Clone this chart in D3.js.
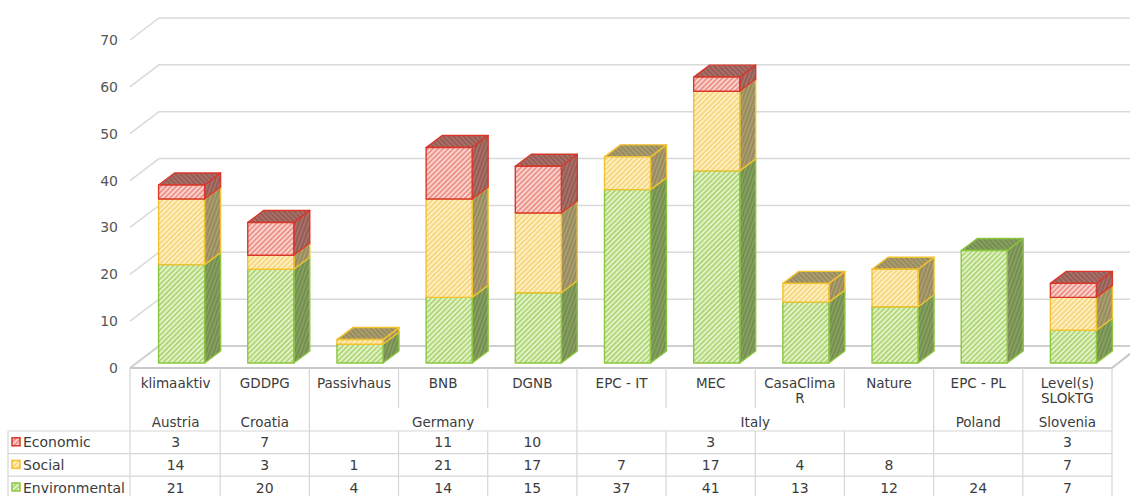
<!DOCTYPE html>
<html><head><meta charset="utf-8">
<script src="https://cdn.jsdelivr.net/npm/d3@7"></script>
<style>
html,body{margin:0;padding:0;background:#fff;}
svg{display:block;font-family:"DejaVu Sans",sans-serif;}
</style></head>
<body>
<svg id="chart" width="1130" height="496"></svg>
<script>
// ---- data ----
const categories = ["klimaaktiv","GDDPG","Passivhaus","BNB","DGNB","EPC - IT","MEC","CasaClima\nR","Nature","EPC - PL","Level(s)\nSLOkTG"];
const countries  = ["Austria","Croatia","Germany","Germany","Germany","Italy","Italy","Italy","Italy","Poland","Slovenia"];
const environmental = [21,20,4,14,15,37,41,13,12,24,7];
const social        = [14,3,1,21,17,7,17,4,8,null,7];
const economic      = [3,7,null,11,10,null,3,null,null,null,3];
const seriesNames = ["Environmental","Social","Economic"];
const yTicks = [0,10,20,30,40,50,60,70];

// ---- styles ----
const styles = {
  Environmental:{border:"#8cc63f", frontBg:"#e4f2c9", frontLn:"#a0d060", sideBg:"#879f60", sideLn:"#6f894a"},
  Social:       {border:"#f2c12e", frontBg:"#fff0c4", frontLn:"#f4cf6a", sideBg:"#aa9d70", sideLn:"#928558"},
  Economic:     {border:"#d9372a", frontBg:"#fad4ce", frontLn:"#ea8077", sideBg:"#aa7068", sideLn:"#8d5650"}
};

const svg = d3.select("#chart");
const W = 1130, H = 496;
const plotL = 131, plotR = 1112;
const DX = 28, DY = -22;          // wall depth
const OFX = 6, OFY = -5;          // bar front offset
const BDX = 16, BDY = -12;        // bar depth
const y = d3.scaleLinear().domain([0,70]).range([368,40]);
const x = d3.scaleBand().domain(categories).range([plotL, plotR]).padding(0);
const bw = x.bandwidth();
const BW = bw * 0.516;
const textC = "#3c3c3c";

// ---- patterns ----
const defs = svg.append("defs");
function pat(id, bg, ln, rot){
  const p = defs.append("pattern").attr("id",id).attr("patternUnits","userSpaceOnUse")
    .attr("width",3.6).attr("height",3.6).attr("patternTransform",`rotate(${rot})`);
  p.append("rect").attr("width",3.6).attr("height",3.6).attr("fill",bg);
  p.append("line").attr("x1",0.9).attr("y1",0).attr("x2",0.9).attr("y2",3.6)
    .attr("stroke",ln).attr("stroke-width",1.4);
}
seriesNames.forEach(s=>{
  const st = styles[s];
  pat(`f-${s}`, st.frontBg, st.frontLn, 45);
  pat(`s-${s}`, st.sideBg, st.sideLn, 20);
  pat(`t-${s}`, st.sideBg, st.sideLn, -45);
});

// ---- walls / gridlines ----
const grid = svg.append("g");
yTicks.forEach(t=>{
  const yf = y(t);
  if (t === 0) return;
  grid.append("path")
    .attr("d", `M${plotL-1},${yf} L${plotL+DX},${yf+DY} L${W},${yf+DY}`)
    .attr("fill","none").attr("stroke","#d9d9d9").attr("stroke-width",1.5);
});
// floor
const y0 = y(0);
grid.append("path")
  .attr("d", `M${plotL-1},${y0} L${plotL+DX},${y0+DY} L${W},${y0+DY}`)
  .attr("fill","none").attr("stroke","#cfcfcf").attr("stroke-width",2);
grid.append("path")
  .attr("d", `M${plotL-1},${y0} L${plotR},${y0} L${plotR+DX},${y0+DY}`)
  .attr("fill","none").attr("stroke","#c8c8c8").attr("stroke-width",2);

// tick labels
svg.append("g").selectAll("text").data(yTicks).join("text")
  .attr("x",118).attr("y",d=>y(d)+5).attr("text-anchor","end")
  .attr("font-size",14).attr("fill","#555").text(d=>d);

// ---- bars ----
const seriesVals = {Environmental:environmental, Social:social, Economic:economic};
const bars = svg.append("g");
categories.forEach((c,i)=>{
  let cum = 0;
  const x0 = x(c) + (bw-BW)/2 + OFX;
  seriesNames.forEach(s=>{
    const v = seriesVals[s][i];
    if (!v) return;
    const lo = cum, hi = cum + v; cum = hi;
    const yb = y(lo) + OFY, yt = y(hi) + OFY;
    const st = styles[s];
    const g = bars.append("g").attr("stroke",st.border).attr("stroke-width",1.4).attr("stroke-linejoin","round");
    g.append("path")
      .attr("d",`M${x0+BW},${yb} L${x0+BW+BDX},${yb+BDY} L${x0+BW+BDX},${yt+BDY} L${x0+BW},${yt} Z`)
      .attr("fill",`url(#s-${s})`);
    g.append("path")
      .attr("d",`M${x0},${yt} L${x0+BDX},${yt+BDY} L${x0+BW+BDX},${yt+BDY} L${x0+BW},${yt} Z`)
      .attr("fill",`url(#t-${s})`);
    g.append("rect").attr("x",x0).attr("y",yt).attr("width",BW).attr("height",yb-yt)
      .attr("fill",`url(#f-${s})`);
  });
});

// ---- data table ----
const tbl = svg.append("g");
const lineC = "#d6d6d6";
const hdrTop = 368, catBot = 408, rowTop = 431, rowH = 22.6;
const tableBottom = rowTop + rowH*3 + 1;
const groups = [];
countries.forEach((cn,i)=>{
  if (groups.length && groups[groups.length-1].name === cn) groups[groups.length-1].end = i;
  else groups.push({name:cn, start:i, end:i});
});
categories.forEach((c,i)=>{
  if (i === 0) return;
  const isBoundary = countries[i] !== countries[i-1];
  tbl.append("line").attr("x1",x(c)).attr("x2",x(c))
    .attr("y1",hdrTop).attr("y2", isBoundary ? tableBottom : catBot)
    .attr("stroke",lineC).attr("stroke-width",1.2);
  if (!isBoundary)
    tbl.append("line").attr("x1",x(c)).attr("x2",x(c))
      .attr("y1",rowTop).attr("y2",tableBottom).attr("stroke",lineC).attr("stroke-width",1.2);
});
[plotL-1, plotR].forEach(xx=>{
  tbl.append("line").attr("x1",xx).attr("x2",xx).attr("y1",hdrTop).attr("y2",tableBottom)
    .attr("stroke",lineC).attr("stroke-width",1.2);
});
tbl.append("line").attr("x1",8).attr("x2",8).attr("y1",rowTop).attr("y2",tableBottom)
  .attr("stroke",lineC).attr("stroke-width",1.2);
for (let r=0;r<=3;r++){
  tbl.append("line").attr("x1",8).attr("x2",plotR).attr("y1",rowTop+r*rowH).attr("y2",rowTop+r*rowH)
    .attr("stroke",lineC).attr("stroke-width",1.2);
}
categories.forEach(c=>{
  const lines = c.split("\n");
  const t = tbl.append("text").attr("x",x(c)+bw/2).attr("y",388).attr("text-anchor","middle")
    .attr("font-size",13.5).attr("fill",textC);
  lines.forEach((ln,k)=>t.append("tspan").attr("x",x(c)+bw/2).attr("dy",k?15:0).text(ln));
});
groups.forEach(gp=>{
  const xs = x(categories[gp.start]), xe = x(categories[gp.end]) + bw;
  tbl.append("text").attr("x",(xs+xe)/2).attr("y",427).attr("text-anchor","middle")
    .attr("font-size",13.5).attr("fill",textC).text(gp.name);
});
const rowOrder = ["Economic","Social","Environmental"];
rowOrder.forEach((s,r)=>{
  const yy = rowTop + r*rowH;
  const st = styles[s];
  tbl.append("rect").attr("x",12).attr("y",yy+rowH/2-4.5).attr("width",8).attr("height",8)
    .attr("fill",`url(#f-${s})`).attr("stroke",st.border).attr("stroke-width",1.5);
  tbl.append("text").attr("x",23).attr("y",yy+rowH/2+5).attr("font-size",14)
    .attr("fill",textC).text(s);
  seriesVals[s].forEach((v,i)=>{
    if (v == null) return;
    tbl.append("text").attr("x",x(categories[i])+bw/2).attr("y",yy+rowH/2+5)
      .attr("text-anchor","middle").attr("font-size",14).attr("fill",textC).text(v);
  });
});
</script>
</body></html>
